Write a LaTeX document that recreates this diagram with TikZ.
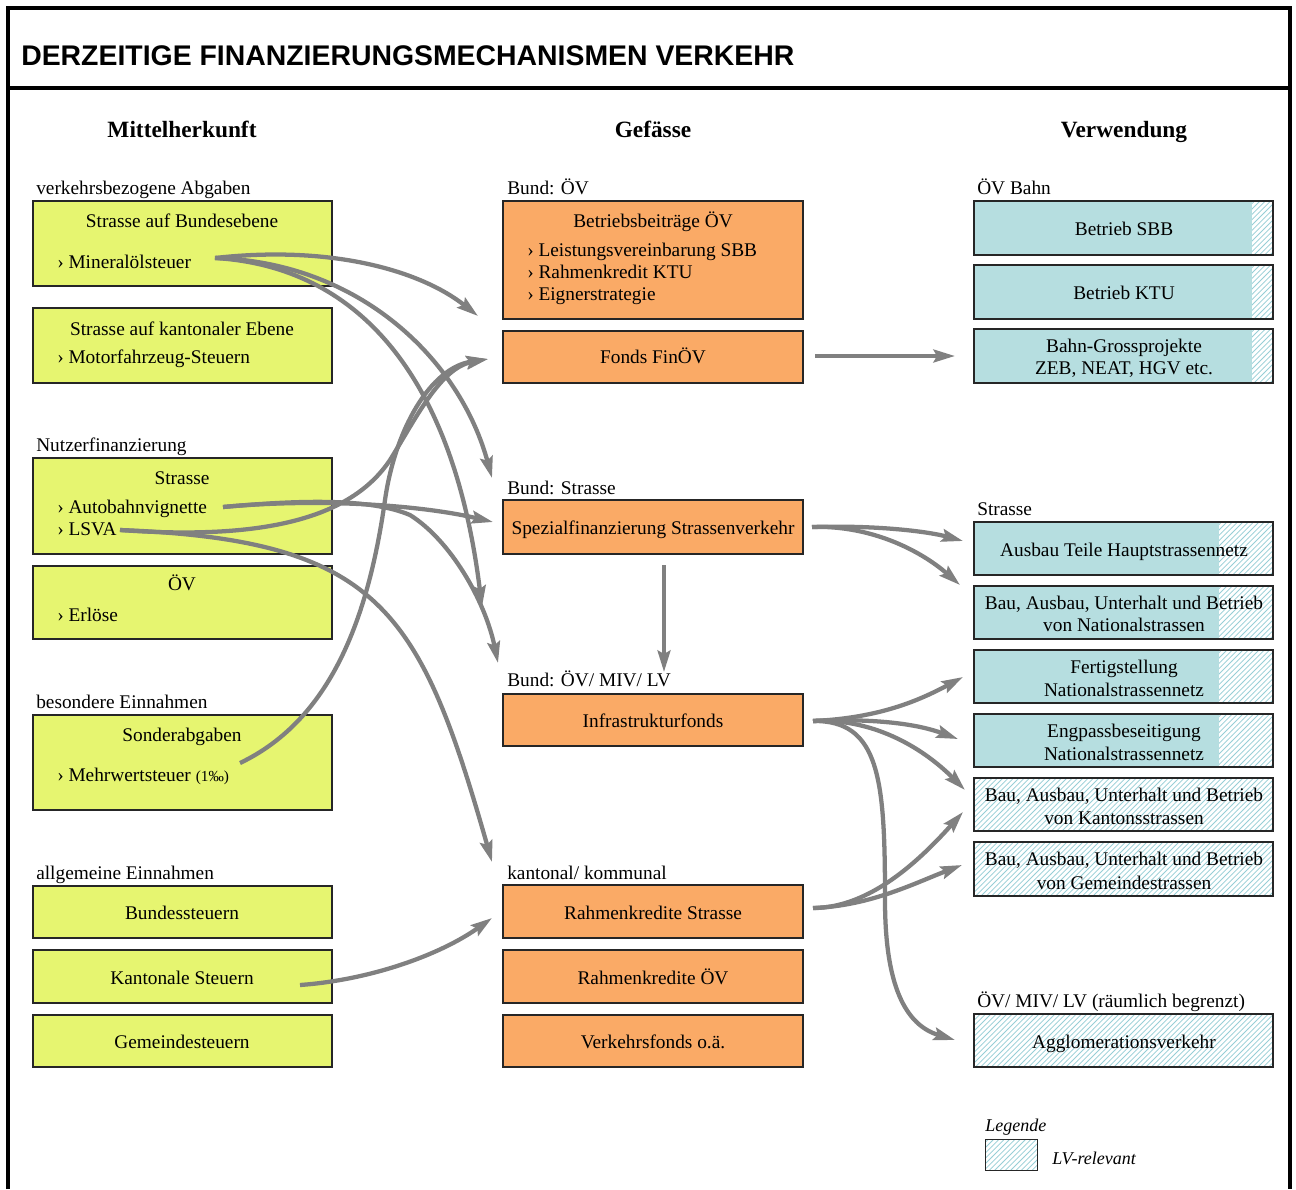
\documentclass[tikz,border=0pt]{standalone}
\usepackage{fontspec}
\setmainfont{Liberation Serif}
\newfontfamily\titlefont{Liberation Sans}
\usetikzlibrary{arrows.meta,patterns,fit}
\pgfdeclarepatternformonly{widenel}{\pgfqpoint{-1pt}{-1pt}}{\pgfqpoint{5pt}{5pt}}{\pgfqpoint{4pt}{4pt}}{%
  \pgfsetlinewidth{0.6pt}%
  \pgfpathmoveto{\pgfqpoint{0pt}{0pt}}%
  \pgfpathlineto{\pgfqpoint{4.1pt}{4.1pt}}%
  \pgfusepath{stroke}}
\definecolor{grn}{RGB}{230,245,112}
\definecolor{org}{RGB}{250,170,102}
\definecolor{blu}{RGB}{182,222,224}
\definecolor{hatc}{RGB}{150,206,214}
\definecolor{arr}{RGB}{128,128,128}
\tikzset{
  box/.style={draw=black!85, line width=0.9pt, inner sep=0pt},
  gbox/.style={box, fill=grn},
  obox/.style={box, fill=org},
  hbox/.style={box, pattern=widenel, pattern color=hatc},
  txt/.style={inner sep=0pt, font=\fontsize{14.5}{17}\selectfont},
  ctxt/.style={txt, anchor=base},
  ltxt/.style={txt, anchor=base west},
  hdr/.style={inner sep=0pt, anchor=base, font=\fontsize{17.5}{20}\selectfont\bfseries},
  flow/.style={draw=arr, line width=3.2pt, line cap=butt,
    -{Stealth[length=16pt,width=9.5pt,inset=2.5pt]}},
}
\newcommand\myPartBox[4]{% name, y1, y2, xstrip
  \fill[blu] (974,#2) rectangle (1273,#3);
  \fill[white] (#4,#2) rectangle (1273,#3);
  \fill[pattern=widenel, pattern color=hatc] (#4,#2) rectangle (1273,#3);
  \node[box, fit={(974,#2)(1273,#3)}] (#1) {};
}
\begin{document}
\begin{tikzpicture}[x=0.75pt,y=-0.75pt]
\useasboundingbox (0,0) rectangle (1296,1189);
\fill[white] (0,0) rectangle (1296,1189);
% frame
\draw[line width=2.3pt] (8,1189) -- (8,8) -- (1290,8) -- (1290,1189);
\draw[line width=2.3pt] (8,88) -- (1290,88);
\node[inner sep=0pt, anchor=base west, font=\titlefont\bfseries\fontsize{21.3}{24}\selectfont] (title) at (21,65) {DERZEITIGE FINANZIERUNGSMECHANISMEN VERKEHR};
% headers
\node[hdr] (h1) at (182,137) {Mittelherkunft};
\node[hdr] (h2) at (653,137) {Gefässe};
\node[hdr] (h3) at (1124,137) {Verwendung};

% ---------- left column ----------
\node[gbox, fit={(33,201)(332,286)}] (lb1) {};
\node[gbox, fit={(33,308)(332,383)}] (lb2) {};
\node[gbox, fit={(33,458)(332,554)}] (lb3) {};
\node[gbox, fit={(33,566)(332,639)}] (lb4) {};
\node[gbox, fit={(33,715)(332,810)}] (lb5) {};
\node[gbox, fit={(33,886)(332,938)}] (lb6) {};
\node[gbox, fit={(33,950)(332,1003)}] (lb7) {};
\node[gbox, fit={(33,1015)(332,1067)}] (lb8) {};

\node[ltxt] (lg1) at (36,194) {verkehrsbezogene Abgaben};
\node[ctxt] (lt1) at (182,227) {Strasse auf Bundesebene};
\node[ltxt] (lt1a) at (57,268) {› Mineralölsteuer};
\node[ctxt] (lt2) at (182,335) {Strasse auf kantonaler Ebene};
\node[ltxt] (lt2a) at (57,363) {› Motorfahrzeug-Steuern};
\node[ltxt] (lg2) at (36,451) {Nutzerfinanzierung};
\node[ctxt] (lt3) at (182,484) {Strasse};
\node[ltxt] (lt3a) at (57,513) {› Autobahnvignette};
\node[ltxt] (lt3b) at (57,535) {› LSVA};
\node[ctxt] (lt4) at (182,590) {ÖV};
\node[ltxt] (lt4a) at (57,621) {› Erlöse};
\node[ltxt] (lg3) at (36,708) {besondere Einnahmen};
\node[ctxt] (lt5) at (182,741) {Sonderabgaben};
\node[ltxt] (lt5a) at (57,781) {› Mehrwertsteuer {\fontsize{11.5}{13}\selectfont(1‰)}};
\node[ltxt] (lg4) at (36,879) {allgemeine Einnahmen};
\node[ctxt] (lt6) at (182,919) {Bundessteuern};
\node[ctxt] (lt7) at (182,984) {Kantonale Steuern};
\node[ctxt] (lt8) at (182,1048) {Gemeindesteuern};

% ---------- middle column ----------
\node[obox, fit={(503,201)(803,319)}] (mb1) {};
\node[obox, fit={(503,331)(803,383)}] (mb2) {};
\node[obox, fit={(503,500)(803,554)}] (mb3) {};
\node[obox, fit={(503,694)(803,746)}] (mb4) {};
\node[obox, fit={(503,885)(803,938)}] (mb5) {};
\node[obox, fit={(503,950)(803,1003)}] (mb6) {};
\node[obox, fit={(503,1015)(803,1067)}] (mb7) {};

\node[ltxt] (mg1) at (507,194) {Bund: ÖV};
\node[ctxt] (mt1) at (653,227) {Betriebsbeiträge ÖV};
\node[ltxt] (mt1a) at (527,256) {› Leistungsvereinbarung SBB};
\node[ltxt] (mt1b) at (527,278) {› Rahmenkredit KTU};
\node[ltxt] (mt1c) at (527,300) {› Eignerstrategie};
\node[ctxt] (mt2) at (653,363) {Fonds FinÖV};
\node[ltxt] (mg2) at (507,494) {Bund: Strasse};
\node[ctxt] (mt3) at (653,534) {Spezialfinanzierung Strassenverkehr};
\node[ltxt] (mg3) at (507,686) {Bund: ÖV/ MIV/ LV};
\node[ctxt] (mt4) at (653,727) {Infrastrukturfonds};
\node[ltxt] (mg4) at (507,879) {kantonal/ kommunal};
\node[ctxt] (mt5) at (653,919) {Rahmenkredite Strasse};
\node[ctxt] (mt6) at (653,984) {Rahmenkredite ÖV};
\node[ctxt] (mt7) at (653,1048) {Verkehrsfonds o.ä.};

% ---------- right column ----------
\myPartBox{rb1}{201}{255}{1252}
\myPartBox{rb2}{265}{319}{1252}
\myPartBox{rb3}{329}{383}{1252}
\myPartBox{rb4}{522}{575}{1219}
\myPartBox{rb5}{586}{639}{1219}
\myPartBox{rb6}{650}{703}{1219}
\myPartBox{rb7}{714}{767}{1219}
\node[hbox, fit={(974,778)(1273,831)}] (rb8) {};
\node[hbox, fit={(974,842)(1273,896)}] (rb9) {};
\node[hbox, fit={(974,1014)(1273,1067)}] (rb10) {};

\node[ltxt] (rg1) at (977,194) {ÖV Bahn};
\node[ctxt] (rt1) at (1124,235) {Betrieb SBB};
\node[ctxt] (rt2) at (1124,299) {Betrieb KTU};
\node[ctxt] (rt3) at (1124,352) {Bahn-Grossprojekte};
\node[ctxt] (rt3b) at (1124,374) {ZEB, NEAT, HGV etc.};
\node[ltxt] (rg2) at (977,515) {Strasse};
\node[ctxt] (rt4) at (1124,556) {Ausbau Teile Hauptstrassennetz};
\node[ctxt] (rt5) at (1124,609) {Bau, Ausbau, Unterhalt und Betrieb};
\node[ctxt] (rt5b) at (1124,631) {von Nationalstrassen};
\node[ctxt] (rt6) at (1124,673) {Fertigstellung};
\node[ctxt] (rt6b) at (1124,696) {Nationalstrassennetz};
\node[ctxt] (rt7) at (1124,737) {Engpassbeseitigung};
\node[ctxt] (rt7b) at (1124,760) {Nationalstrassennetz};
\node[ctxt] (rt8) at (1124,801) {Bau, Ausbau, Unterhalt und Betrieb};
\node[ctxt] (rt8b) at (1124,824) {von Kantonsstrassen};
\node[ctxt] (rt9) at (1124,865) {Bau, Ausbau, Unterhalt und Betrieb};
\node[ctxt] (rt9b) at (1124,889) {von Gemeindestrassen};
\node[ltxt] (rg3) at (977,1007) {ÖV/ MIV/ LV (räumlich begrenzt)};
\node[ctxt] (rt10) at (1124,1048) {Agglomerationsverkehr};

% legend
\node[ltxt, font=\fontsize{13.5}{16}\selectfont\itshape] (leg) at (985,1131) {Legende};
\node[hbox, line width=0.7pt, fit={(985,1139)(1037,1170)}] (legbox) {};
\node[ltxt, font=\fontsize{13.5}{16}\selectfont\itshape] (legtxt) at (1052,1164) {LV-relevant};

% ---------- connector end points ----------
\coordinate (smin) at (215,258);
\coordinate (sabv) at (223,507);
\coordinate (slsva) at (120,530);
\coordinate (smwst) at (240,763);
\coordinate (skst) at (300,985);
\coordinate (sfin) at (815,356);
\coordinate (sspz) at (812,527);
\coordinate (sspzd) at (664,565);
\coordinate (sinf) at (813,721);
\coordinate (srks) at (813,908);

\coordinate (e1) at (478,316);
\coordinate (e2) at (492,478);
\coordinate (e3) at (482,607);
\coordinate (e4) at (493,522);
\coordinate (e5) at (498,663);
\coordinate (e6) at (488,359);
\coordinate (e7) at (492,862);
\coordinate (e8) at (492,918);
\coordinate (e9) at (955,356);
\coordinate (e10) at (963,541);
\coordinate (e11) at (960,585);
\coordinate (e12) at (664,672);
\coordinate (e13) at (963,677);
\coordinate (e14) at (958,739);
\coordinate (e15) at (965,790);
\coordinate (e16) at (955,1040);
\coordinate (e17) at (963,812);
\coordinate (e18) at (962,865);

% ---------- connectors ----------
\draw[flow] (smin) .. controls (330,245) and (420,270) .. (e1);
\draw[flow] (smin) .. controls (360,262) and (460,360) .. (e2);
\draw[flow] (smin) .. controls (350,266) and (452,365) .. (e3);
\draw[flow] (sabv) .. controls (320,498) and (420,505) .. (e4);
\draw[flow] (sabv) .. controls (300,500) and (370,498) .. (410,515) .. controls (450,540) and (485,600) .. (e5);
\draw[flow] (slsva) .. controls (260,540) and (350,520) .. (390,460) .. controls (415,420) and (440,368) .. (e6);
\draw[flow] (smwst) .. controls (330,720) and (368,620) .. (385,500) .. controls (395,430) and (430,368) .. (e6);
\draw[flow] (slsva) .. controls (380,540) and (420,610) .. (e7);
\draw[flow] (skst) .. controls (370,980) and (440,955) .. (e8);

\draw[flow] (sfin) -- (e9);
\draw[flow] (sspz) .. controls (880,525) and (930,532) .. (e10);
\draw[flow] (sspz) .. controls (870,525) and (920,550) .. (e11);
\draw[flow] (sspzd) -- (e12);
\draw[flow] (sinf) .. controls (880,718) and (920,700) .. (e13);
\draw[flow] (sinf) .. controls (880,718) and (920,725) .. (e14);
\draw[flow] (sinf) .. controls (870,718) and (920,745) .. (e15);
\draw[flow] (sinf) .. controls (880,720) and (885,780) .. (885,900) .. controls (885,985) and (905,1025) .. (e16);
\draw[flow] (srks) .. controls (870,908) and (920,860) .. (e17);
\draw[flow] (srks) .. controls (870,906) and (915,883) .. (e18);
\end{tikzpicture}
\end{document}
